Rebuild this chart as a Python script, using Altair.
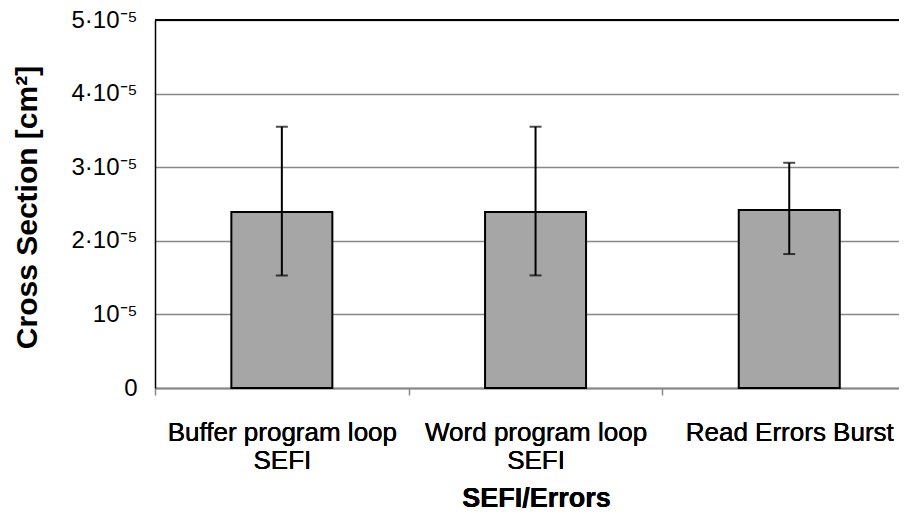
import json
import altair as alt
import pandas as pd

categories = ["Buffer program loop|SEFI", "Word program loop|SEFI", "Read Errors Burst"]
values = [2.39e-5, 2.39e-5, 2.42e-5]
err_low = [1.53e-5, 1.53e-5, 1.82e-5]
err_high = [3.55e-5, 3.55e-5, 3.06e-5]
y_ticks = [0, 1e-5, 2e-5, 3e-5, 4e-5, 5e-5]
y_tick_labels = ["0", "10⁻⁵", "2·10⁻⁵", "3·10⁻⁵", "4·10⁻⁵", "5·10⁻⁵"]

slot = list(range(len(categories)))           # category slot index
centers = [i + 0.5 for i in slot]             # category centre within its slot
df = pd.DataFrame({"cat": categories, "pos": centers, "val": values, "lo": err_low, "hi": err_high})
caps = pd.DataFrame({"pos": centers * 2, "val": err_low + err_high})

FONT = "Liberation Sans"
GRID = "#888888"
W = 744
STEP = 253.7  # px per category; the third slot runs past the visible right edge (cropped chart)
xscale = alt.Scale(domain=[0, W / STEP], nice=False, zero=False, padding=0)
yscale = alt.Scale(domain=[0, 5e-5], nice=False, zero=True, padding=0)
ylabel_expr = json.dumps(y_tick_labels, ensure_ascii=False) + "[round(datum.value*100000)]"
xlabel_expr = "split(" + json.dumps(categories) + "[round(datum.value - 0.5)], '|')"

yaxis = alt.Axis(values=y_ticks, labelExpr=ylabel_expr, domain=True, domainColor="black",
                 domainWidth=1.5, ticks=False, tickSize=0, grid=True, gridColor=GRID,
                 gridWidth=1.5, labelFont=FONT, labelFontSize=24, labelColor="black",
                 labelPadding=18, labelLimit=0,
                 title="Cross Section [cm²]", titleFont=FONT, titleFontSize=30,
                 titleFontWeight="bold", titleColor="black", titleAngle=270,
                 titleX=-128, titleY=187, titleAlign="center", titleBaseline="middle")

label_axis = alt.Axis(orient="bottom", values=centers, domain=False, ticks=False, tickSize=0,
                      grid=False, labelAngle=0, labelPadding=31, labelFontSize=26,
                      labelFont=FONT, labelColor="black", labelExpr=xlabel_expr,
                      labelLineHeight=28, labelBaseline="top", labelLimit=0, labelFlush=False,
                      labelOverlap=False,
                      title="SEFI/Errors", titleFont=FONT, titleFontSize=27,
                      titleFontWeight="bold", titleColor="black",
                      titleX=381, titleY=110, titleBaseline="middle", titleAlign="center")

tick_axis_def = alt.Axis(orient="bottom", values=slot + [len(slot)], labels=False, title=None,
                         domain=True, domainColor=GRID, domainWidth=2, grid=False,
                         ticks=True, tickColor=GRID, tickWidth=1.5, tickSize=7)

bars = alt.Chart(df).mark_bar(width=101, orient="vertical", fill="#A6A6A6",
                              stroke="black", strokeWidth=2).encode(
    x=alt.X("pos:Q", scale=xscale, axis=label_axis),
    y=alt.Y("val:Q", scale=yscale, axis=yaxis),
)

tick_axis = alt.Chart(df).mark_point(opacity=0).encode(
    x=alt.X("pos:Q", scale=xscale, axis=tick_axis_def),
    y=alt.Y("val:Q", scale=yscale, axis=yaxis),
)

rules = alt.Chart(df).mark_rule(color="black", strokeWidth=2).encode(
    x=alt.X("pos:Q", scale=xscale, axis=label_axis),
    y=alt.Y("lo:Q", scale=yscale, axis=yaxis),
    y2="hi:Q",
)

cap_marks = alt.Chart(caps).mark_tick(color="black", size=12, thickness=2, orient="horizontal").encode(
    x=alt.X("pos:Q", scale=xscale, axis=label_axis),
    y=alt.Y("val:Q", scale=yscale, axis=yaxis),
)

top_line = alt.Chart(df).mark_rule(color="black", strokeWidth=2).encode(
    y=alt.datum(5e-5, scale=yscale, axis=yaxis),
    x=alt.value(0),
    x2=alt.value(W),
)

chart = alt.layer(bars, tick_axis, rules, cap_marks, top_line).resolve_axis(
    x="independent"
).properties(
    width=W,
    height=368,
    autosize=alt.AutoSizeParams(type="none"),
    padding={"left": 147, "top": 12, "right": 0, "bottom": 125},
).configure_view(stroke=None).configure(background="white")

chart.save("out.html", embed_options={"renderer": "svg", "actions": False})
